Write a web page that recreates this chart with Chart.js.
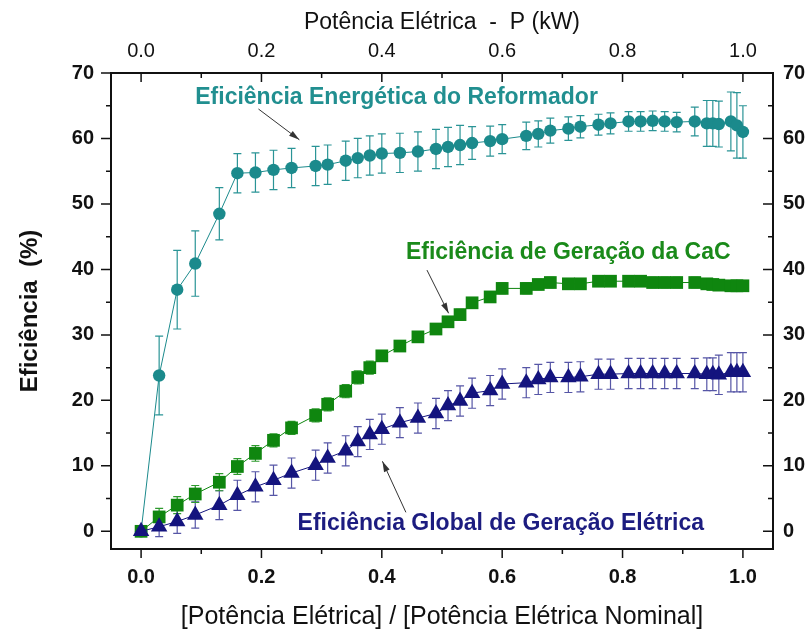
<!DOCTYPE html>
<html>
<head>
<meta charset="utf-8">
<script src="https://cdn.jsdelivr.net/npm/chart.js@4.4.1/dist/chart.umd.min.js"></script>
<style>
  html, body { margin: 0; padding: 0; background: #fff; }
  #wrap { width: 810px; height: 632px; position: relative; }
</style>
</head>
<body>
<div id="wrap"><canvas id="grafico"></canvas></div>
<script>
// potência relativa (eixo x) - mesma para as três séries
const potencia = [0, 0.03, 0.06, 0.09, 0.13, 0.16, 0.19, 0.22, 0.25, 0.29, 0.31, 0.34, 0.36, 0.38, 0.40, 0.43, 0.46, 0.49, 0.51, 0.53, 0.55,
  0.58, 0.60, 0.64, 0.66, 0.68, 0.71, 0.73, 0.76, 0.78, 0.81, 0.83, 0.85, 0.87, 0.89, 0.92, 0.94, 0.95, 0.96, 0.98, 0.99, 1.00];

const efReformador = [0, 23.8, 36.9, 40.9, 48.5, 54.7, 54.8, 55.2, 55.5, 55.8, 56.0, 56.6, 57.0, 57.4, 57.7, 57.8, 58.0, 58.4, 58.7, 59.0, 59.3,
  59.6, 59.9, 60.4, 60.7, 61.2, 61.5, 61.8, 62.1, 62.3, 62.6, 62.6, 62.7, 62.6, 62.5, 62.6, 62.3, 62.3, 62.2, 62.6, 62.0, 61.0];
const erroReformador = [0, 6, 6, 5, 4, 3, 3, 3, 3, 3, 3, 3, 3, 3, 3, 3, 3, 3, 3, 3, 2.5,
  2.3, 2.2, 2.1, 2, 1.9, 1.8, 1.7, 1.6, 1.6, 1.5, 1.5, 1.5, 1.5, 1.5, 2.2, 3.5, 3.5, 3.5, 4.5, 5, 4];

const efCaC = [0, 2.2, 4.0, 5.7, 7.5, 9.9, 11.9, 13.9, 15.8, 17.7, 19.4, 21.4, 23.5, 25.0, 26.8, 28.3, 29.7, 30.9, 32.0, 33.1, 34.9,
  35.8, 37.1, 37.1, 37.7, 38.0, 37.8, 37.8, 38.2, 38.2, 38.2, 38.2, 38.0, 38.0, 38.0, 38.0, 37.8, 37.7, 37.6, 37.5, 37.5, 37.5];
const erroCaC = [0, 1.3, 1.3, 1.3, 1.3, 1.2, 1.2, 1, 1, 1, 1, 1, 1, 1, 0.8, 0.8, 0.8, 0.8, 0.8, 0.8, 0.8,
  0.8, 0.8, 0.8, 0.8, 0.8, 0.8, 0.8, 0.8, 0.8, 0.8, 0.8, 0.8, 0.8, 0.8, 0.8, 0.8, 0.8, 0.8, 0.8, 0.8, 0.8];

const efGlobal = [0, 0.7, 1.5, 2.5, 4.0, 5.5, 6.8, 7.8, 8.9, 10.1, 11.2, 12.3, 13.7, 14.8, 15.6, 16.6, 17.3, 18.0, 19.2, 19.9, 21.1,
  21.5, 22.5, 22.7, 23.2, 23.5, 23.5, 23.6, 24.0, 24.0, 24.1, 24.1, 24.1, 24.1, 24.1, 24.1, 24.0, 24.0, 23.9, 24.3, 24.3, 24.3];
const erroGlobal = [0, 1.5, 1.8, 2, 2.2, 2.3, 2.3, 2.3, 2.3, 2.3, 2.3, 2.3, 2.3, 2.3, 2.3, 2.3, 2.3, 2.3, 2.3, 2.3, 2.3,
  2.3, 2.3, 2.3, 2.3, 2.3, 2.3, 2.3, 2.3, 2.3, 2.3, 2.3, 2.3, 2.3, 2.3, 2.3, 2.5, 2.5, 3, 3, 3, 3];

const ticksX = [0, 0.2, 0.4, 0.6, 0.8, 1.0];
const ticksXmenor = [0.1, 0.3, 0.5, 0.7, 0.9];
const ticksY = [0, 10, 20, 30, 40, 50, 60, 70];
const ticksYmenor = [5, 15, 25, 35, 45, 55, 65];

const TEAL = '#1b8a8c', VERDE = '#0f860f', AZUL = '#14147e';

// rótulos e setas em coordenadas do gráfico
const rotulos = [
  { texto: 'Eficiência Energética do Reformador', x: 0.09, y: 66.3, cor: '#218f90' },
  { texto: 'Eficiência de Geração da CaC', x: 0.44, y: 42.6, cor: '#1a8a1a' },
  { texto: 'Eficiência Global de Geração Elétrica', x: 0.26, y: 1.1, cor: '#1c1c80' }
];
const setas = [
  { de: [0.195, 64.5], para: [0.263, 59.8] },
  { de: [0.475, 39.9], para: [0.511, 33.3] },
  { de: [0.44, 2.9], para: [0.401, 10.7] }
];

const pontos = ys => potencia.map((x, i) => ({ x: x, y: ys[i] }));

Chart.defaults.font.family = "'Liberation Sans', Arial, sans-serif";
Chart.defaults.color = '#111';

const barrasErro = {
  id: 'barrasErro',
  beforeDatasetsDraw(chart) {
    const ctx = chart.ctx, sx = chart.scales.x, sy = chart.scales.y;
    chart.data.datasets.forEach(ds => {
      if (!ds.erro) return;
      ctx.save();
      ctx.strokeStyle = ds.corErro;
      ctx.lineWidth = 1.2;
      ds.data.forEach((p, i) => {
        const e = ds.erro[i];
        if (!e) return;
        const px = sx.getPixelForValue(p.x);
        const y1 = sy.getPixelForValue(p.y + e), y2 = sy.getPixelForValue(p.y - e);
        ctx.beginPath();
        ctx.moveTo(px, y1); ctx.lineTo(px, y2);
        ctx.moveTo(px - 4, y1); ctx.lineTo(px + 4, y1);
        ctx.moveTo(px - 4, y2); ctx.lineTo(px + 4, y2);
        ctx.stroke();
      });
      ctx.restore();
    });
  }
};

const moldura = {
  id: 'moldura',
  afterDatasetsDraw(chart) {
    const ctx = chart.ctx, a = chart.chartArea, sx = chart.scales.x, sy = chart.scales.y;
    ctx.save();
    ctx.strokeStyle = '#111';
    ctx.lineWidth = 2;
    ctx.strokeRect(a.left, a.top, a.right - a.left, a.bottom - a.top);
    ctx.lineWidth = 1.5;
    ctx.beginPath();
    const marcaX = (v, t) => {
      const px = sx.getPixelForValue(v);
      ctx.moveTo(px, a.bottom); ctx.lineTo(px, a.bottom + t);  // fora
      ctx.moveTo(px, a.top); ctx.lineTo(px, a.top + t);        // dentro
    };
    const marcaY = (v, t) => {
      const py = sy.getPixelForValue(v);
      ctx.moveTo(a.left, py); ctx.lineTo(a.left - t, py);      // fora
      ctx.moveTo(a.right, py); ctx.lineTo(a.right - t, py);    // dentro
    };
    ticksX.forEach(v => marcaX(v, 9));
    ticksXmenor.forEach(v => marcaX(v, 5));
    ticksY.forEach(v => marcaY(v, 10));
    ticksYmenor.forEach(v => marcaY(v, 5));
    ctx.stroke();
    ctx.restore();
  }
};

const anotacoes = {
  id: 'anotacoes',
  afterDraw(chart) {
    const ctx = chart.ctx, sx = chart.scales.x, sy = chart.scales.y;
    ctx.save();
    ctx.font = "bold 23px 'Liberation Sans', Arial, sans-serif";
    ctx.textBaseline = 'middle';
    ctx.textAlign = 'left';
    rotulos.forEach(r => {
      ctx.fillStyle = r.cor;
      ctx.fillText(r.texto, sx.getPixelForValue(r.x), sy.getPixelForValue(r.y));
    });
    ctx.strokeStyle = '#333';
    ctx.fillStyle = '#333';
    ctx.lineWidth = 1;
    setas.forEach(s => {
      const x1 = sx.getPixelForValue(s.de[0]), y1 = sy.getPixelForValue(s.de[1]);
      const x2 = sx.getPixelForValue(s.para[0]), y2 = sy.getPixelForValue(s.para[1]);
      const ang = Math.atan2(y2 - y1, x2 - x1);
      ctx.beginPath(); ctx.moveTo(x1, y1); ctx.lineTo(x2, y2); ctx.stroke();
      ctx.beginPath();
      ctx.moveTo(x2, y2);
      ctx.lineTo(x2 - 11 * Math.cos(ang - 0.28), y2 - 11 * Math.sin(ang - 0.28));
      ctx.lineTo(x2 - 11 * Math.cos(ang + 0.28), y2 - 11 * Math.sin(ang + 0.28));
      ctx.closePath(); ctx.fill();
    });
    ctx.restore();
  }
};

const eixoX = (pos, titulo, altura, fonteTicks, fonteTitulo, padTicks, padTitulo) => ({
  type: 'linear', position: pos, min: -0.05, max: 1.05,
  grid: { display: false, drawTicks: false }, border: { display: false },
  afterBuildTicks: s => { s.ticks = ticksX.map(v => ({ value: v })); },
  afterFit: s => { s.height = altura; },
  ticks: { callback: v => v.toFixed(1), font: fonteTicks, padding: padTicks, maxRotation: 0, autoSkip: false },
  title: { display: true, text: titulo, font: fonteTitulo, padding: padTitulo, color: '#111' }
});

const eixoY = (pos, largura, padTicks, comTitulo) => ({
  type: 'linear', position: pos, min: -2.7, max: 70,
  grid: { display: false, drawTicks: false }, border: { display: false },
  afterBuildTicks: s => { s.ticks = ticksY.map(v => ({ value: v })); },
  afterFit: s => { s.width = largura; },
  ticks: { font: { size: 20, weight: 'bold' }, padding: padTicks },
  title: { display: comTitulo, text: 'Eficiência  (%)', font: { size: 24, weight: 'bold' }, padding: { top: 16 }, color: '#111' }
});

new Chart(document.getElementById('grafico'), {
  type: 'scatter',
  data: {
    datasets: [
      {
        label: 'Eficiência Global de Geração Elétrica',
        data: pontos(efGlobal), erro: erroGlobal, corErro: '#5656a6',
        showLine: true, borderColor: AZUL, borderWidth: 1, backgroundColor: AZUL,
        pointStyle: 'triangle', pointRadius: 9.5, pointBorderWidth: 0, order: 1
      },
      {
        label: 'Eficiência de Geração da CaC',
        data: pontos(efCaC), erro: erroCaC, corErro: '#2e9a2e',
        showLine: true, borderColor: VERDE, borderWidth: 1, backgroundColor: VERDE,
        pointStyle: 'rect', pointRadius: 9, pointBorderWidth: 0, order: 2
      },
      {
        label: 'Eficiência Energética do Reformador',
        data: pontos(efReformador), erro: erroReformador, corErro: '#2a9496',
        showLine: true, borderColor: TEAL, borderWidth: 1, backgroundColor: TEAL,
        pointStyle: 'circle', pointRadius: 6.2, pointBorderWidth: 0, order: 3
      }
    ]
  },
  options: {
    responsive: true,
    maintainAspectRatio: false,
    animation: false,
    layout: { padding: 0 },
    plugins: { legend: { display: false }, tooltip: { enabled: false } },
    scales: {
      x: eixoX('bottom', '[Potência Elétrica] / [Potência Elétrica Nominal]', 83,
        { size: 20, weight: 'bold' }, { size: 25 }, 16, { top: 0, bottom: 0 }),
      x2: eixoX('top', 'Potência Elétrica  -  P (kW)', 73,
        { size: 20 }, { size: 23 }, 10, { top: 9, bottom: 0 }),
      y: eixoY('left', 111, 17, true),
      y2: eixoY('right', 37, 10, false)
    }
  },
  plugins: [barrasErro, moldura, anotacoes]
});
</script>
</body>
</html>
